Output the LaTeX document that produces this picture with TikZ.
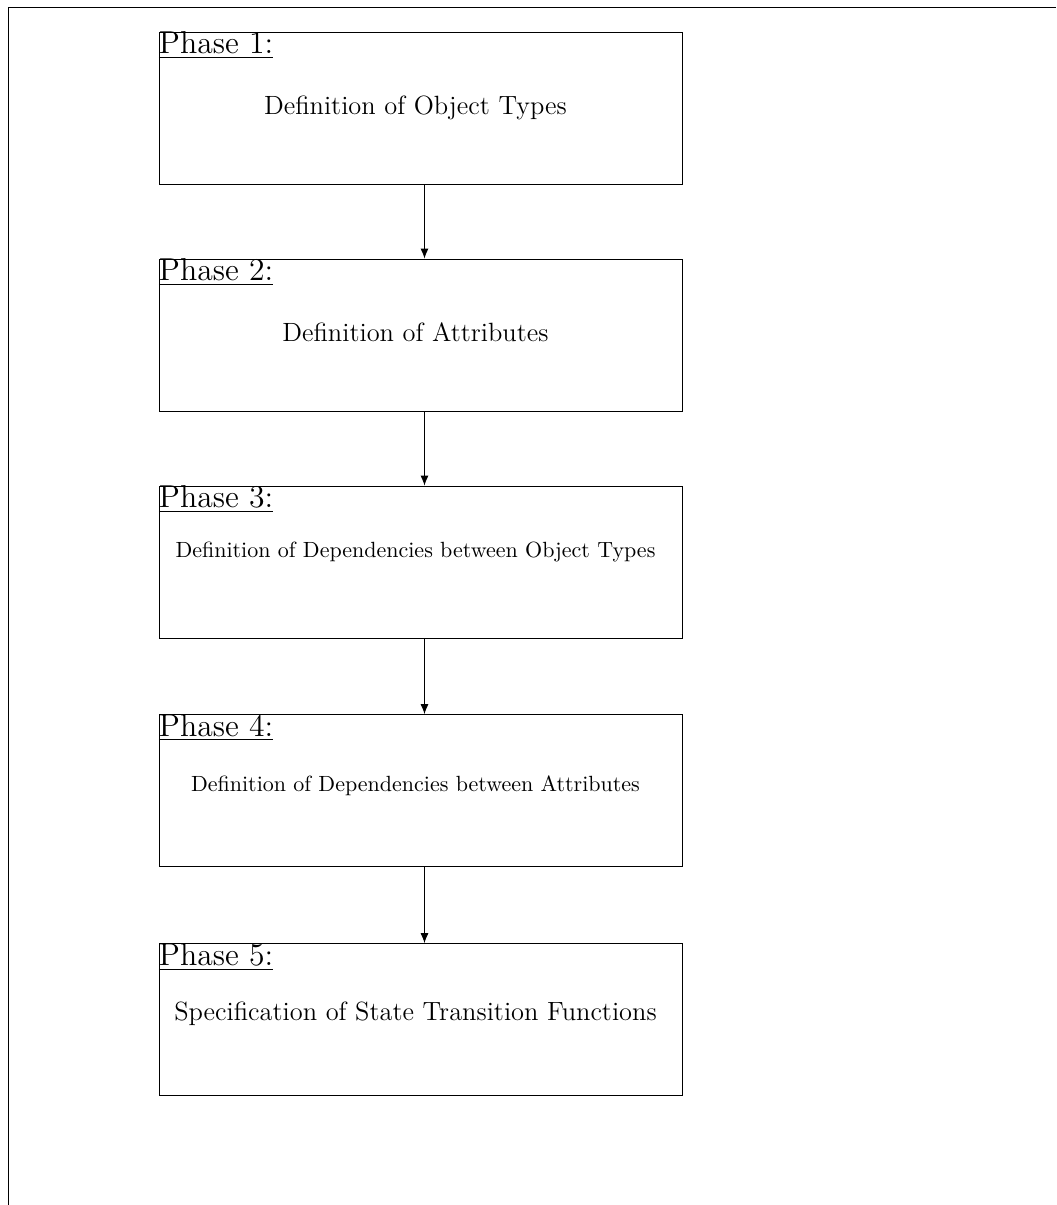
\documentclass[tikz,border=0pt]{standalone}
\usepackage{tikz}
\usetikzlibrary{arrows.meta}

\tikzset{
  phasebox/.style={draw, rectangle, minimum width=8.356cm, minimum height=2.429cm, inner sep=0pt},
  phaselabel/.style={anchor=north west, inner sep=0pt, font=\Large},
  flow/.style={-{Latex[length=4.5pt, width=3.6pt]}}
}

\begin{document}
\begin{tikzpicture}
            \useasboundingbox (0,0) rectangle (16.872,-19.252);
            % frame
            \draw (0.128,-19.252) -- (0.128,-0.112) -- (16.872,-0.112);

            \node[phasebox] (p1) at (6.718,-1.725) {};
            \node[phasebox] (p2) at (6.718,-5.352) {};
            \node[phasebox] (p3) at (6.718,-8.979) {};
            \node[phasebox] (p4) at (6.718,-12.630) {};
            \node[phasebox] (p5) at (6.718,-16.289) {};

            \node[phaselabel] (l1) at (p1.north west) {\underline{Phase 1:}};
            \node[phaselabel] (l2) at (p2.north west) {\underline{Phase 2:}};
            \node[phaselabel] (l3) at (p3.north west) {\underline{Phase 3:}};
            \node[phaselabel] (l4) at (p4.north west) {\underline{Phase 4:}};
            \node[phaselabel] (l5) at (p5.north west) {\underline{Phase 5:}};

            \node[font=\large] (t1) at ([xshift=-0.08cm]p1.center) {Definition of Object Types};
            \node[font=\large] (t2) at ([xshift=-0.08cm, yshift=0.05cm]p2.center) {Definition of Attributes};
            \node (t3) at ([xshift=-0.08cm, yshift=0.16cm]p3.center) {Definition of Dependencies between Object Types};
            \node (t4) at ([xshift=-0.08cm, yshift=0.08cm]p4.center) {Definition of Dependencies between Attributes};
            \node[font=\large] (t5) at ([xshift=-0.08cm, yshift=0.10cm]p5.center) {Specification of State Transition Functions};

            \draw[flow] ([xshift=0.064cm]p1.south) -- ([xshift=0.064cm]p2.north);
            \draw[flow] ([xshift=0.064cm]p2.south) -- ([xshift=0.064cm]p3.north);
            \draw[flow] ([xshift=0.064cm]p3.south) -- ([xshift=0.064cm]p4.north);
            \draw[flow] ([xshift=0.064cm]p4.south) -- ([xshift=0.064cm]p5.north);
        \end{tikzpicture}
\end{document}
